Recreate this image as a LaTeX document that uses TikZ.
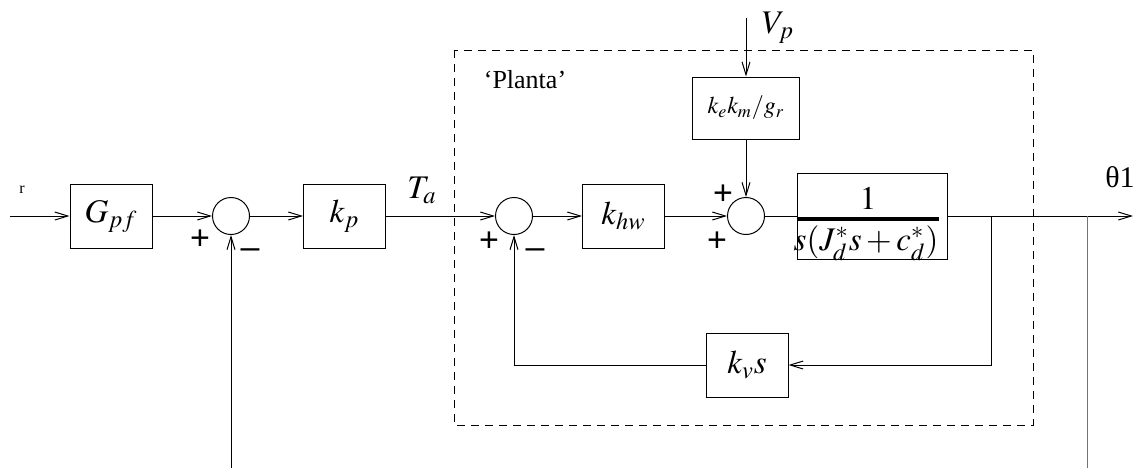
\documentclass[tikz,border=0pt]{standalone}
\usepackage{amsmath,amssymb}
\usepackage{mathptmx}
\usepackage{fontspec}
\setmainfont{Liberation Serif}
\setsansfont{Liberation Sans}
\usetikzlibrary{arrows.meta,calc}

\tikzset{
  blk/.style={draw, minimum width=41pt, minimum height=32pt, inner sep=0pt},
  sumc/.style={draw, circle, minimum size=18.5pt, inner sep=0pt},
  sgn/.style={font=\sffamily\fontsize{17}{18}\selectfont},
  sig/.style={-{Straight Barb[length=6.5pt,width=4pt]}},
}

\begin{document}
\begin{tikzpicture}[x=0.5pt,y=-0.5pt,line width=0.5pt,font=\fontsize{16.5}{18}\selectfont]
\useasboundingbox (0,0) rectangle (1133,468);
\draw [dash pattern=on 4pt off 3pt] (454,50) rectangle (1033,425);
\node at (525,80) {\fontsize{13}{14}\selectfont `Planta'};
\node (gpf) [blk] at (111,216) {$G_{pf}$};
\node (s1) [sumc] at (231,216) {};
\node (kp) [blk] at (344.5,216) {$k_p$};
\node (s2) [sumc] at (514,216) {};
\node (khw) [blk] at (623.5,216) {$k_{hw}$};
\node (s3) [sumc] at (746,216) {};
\node (kekm) [blk, minimum width=53.5pt, minimum height=31pt, font=\fontsize{12}{13}\selectfont] at (746,108) {$k_ek_m/g_r$};
\node (plant) [blk, minimum width=75pt, minimum height=43pt] at (872,216) {};
\node (num) at ($(plant)+(-4,-18)$) {$1$};
\node (den) at ($(plant)+(-6,27)$) {$s(J_d^*s+c_d^*)$};
\draw [line width=1.6pt] ($(plant.west)+(0,3)$) -- ++(142,0);
\node (kvs) [blk] at (747,365) {$k_vs$};
% labels
\node [font=\fontsize{8}{9}\selectfont] at (22,190) {r};
\node at (422,190) {$T_a$};
\node at (778,28) {$V_p$};
\node [font=\fontsize{15}{16}\selectfont] at (1120,177) {θ1};
\node [sgn] at ($(s1)+(-31,24)$) {+};
\node [sgn] at ($(s1)+(19,38)$) {–};
\node [sgn] at ($(s2)+(-25,26)$) {+};
\node [sgn] at ($(s2)+(21,38)$) {–};
\node [sgn] at ($(s3)+(-23,-21)$) {+};
\node [sgn] at ($(s3)+(-29,26)$) {+};
% signals
\coordinate (rin) at (10,216);
\coordinate (out) at (1133,216);
\coordinate (vin) at (746,18);
\coordinate (br1) at (991,216);
\coordinate (br2) at (1087,216);
\coordinate (fb1) at (231,468);
\coordinate (fb2) at (1087,468);
\draw [sig] (rin) -- (gpf);
\draw [sig] (gpf) -- (s1);
\draw [sig] (s1) -- (kp);
\draw [sig] (kp) -- (s2);
\draw [sig] (s2) -- (khw);
\draw [sig] (khw) -- (s3);
\draw (s3) -- (plant);
\draw [sig] (plant) -- (out);
\draw [sig] (vin) -- (kekm);
\draw [sig] (kekm) -- (s3);
\draw [sig] (br1) |- (kvs);
\draw [sig] (kvs) -| (s2);
\draw [sig] (fb1) -- (s1);
\draw [black!55] (br2) -- (fb2);
\end{tikzpicture}
\end{document}
